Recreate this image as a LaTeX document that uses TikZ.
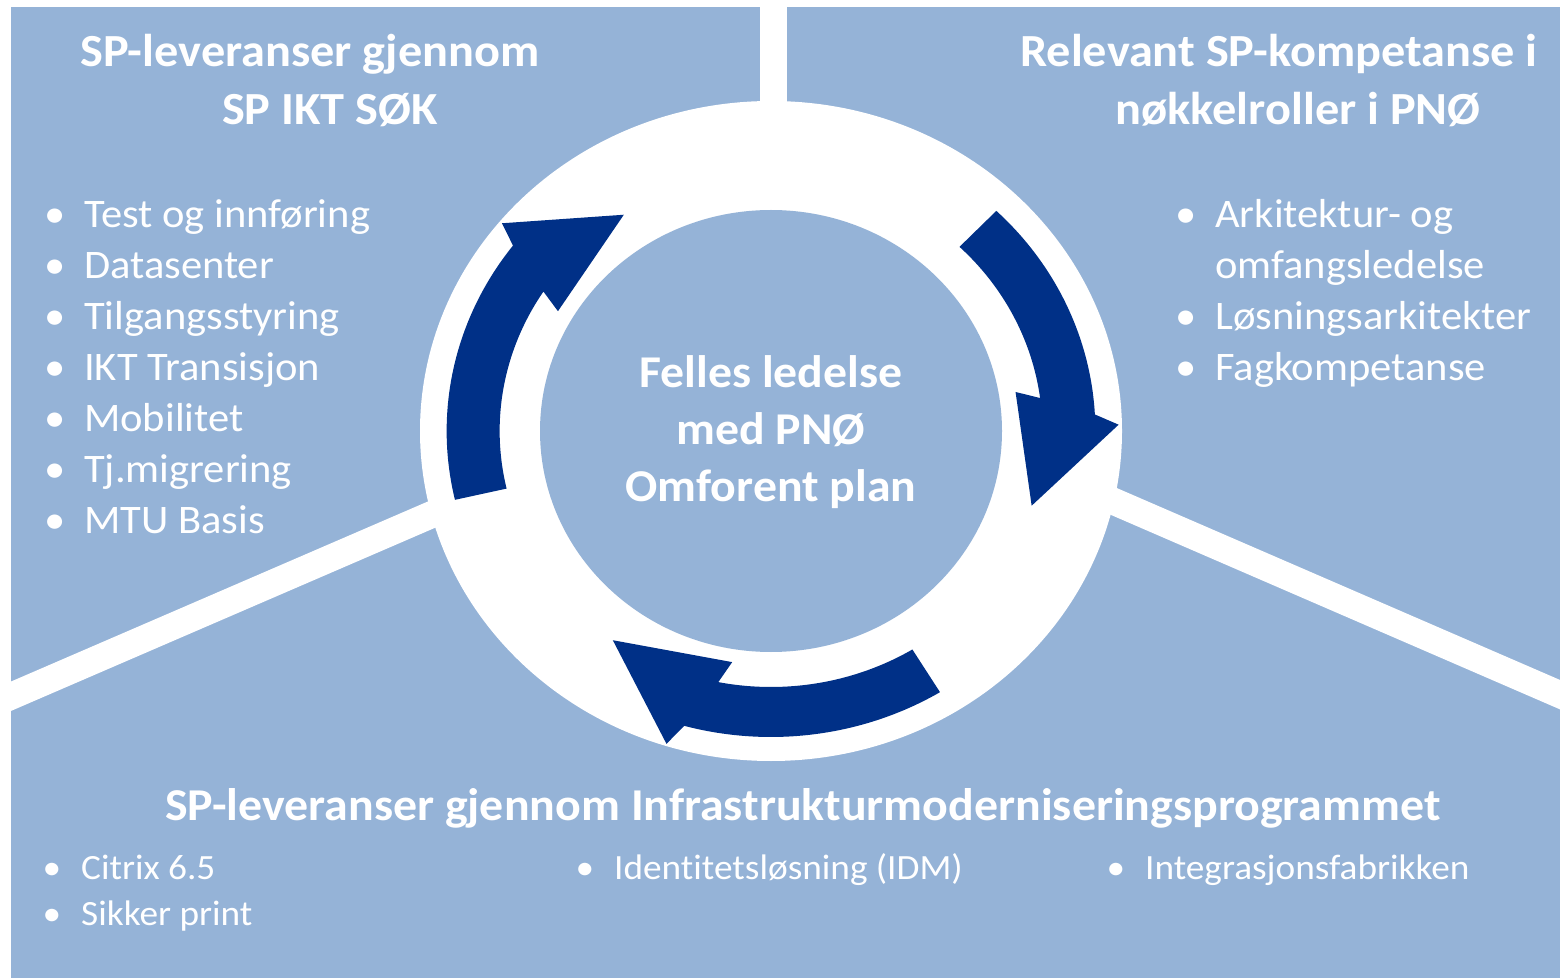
\documentclass[tikz,border=0pt]{standalone}
\usepackage{fontspec}
\setmainfont{Carlito}[Ligatures=NoCommon,FakeStretch=1.05]
\usepackage{tikz}
\usetikzlibrary{positioning,calc}
\definecolor{panelblue}{HTML}{95B3D7}
\definecolor{arrowblue}{HTML}{003087}
\newcommand{\cyclearrow}[2]{% tail angle, tip angle
  \fill[arrowblue] (#1:306) arc[start angle=#1, end angle={#2+20}, radius=306]
    -- ({#2+18}:328) -- (#2:257) -- ({#2+26.5}:234) -- ({#2+24.3}:256)
    arc[start angle={#2+24.3}, end angle=#1, radius=256] -- cycle;}

\begin{document}
\begin{tikzpicture}[x=1pt,y=1pt,
    gap/.style={white,line width=27pt},
    title/.style={text=white,inner sep=0pt,anchor=base,align=center,
      font=\fontsize{46}{58}\selectfont\bfseries},
    bulitem/.style={text=white,inner sep=0pt,anchor=base west,
      font=\fontsize{40.5}{51}\selectfont,
      execute at begin node={\llap{\textbullet\hspace{19pt}}}},
    contitem/.style={text=white,inner sep=0pt,anchor=base west,
      font=\fontsize{40.5}{51}\selectfont},
    smallitem/.style={text=white,inner sep=0pt,anchor=base west,
      font=\fontsize{35.5}{46}\selectfont,
      execute at begin node={\llap{\textbullet\hspace{20pt}}}}]
    \useasboundingbox (0,0) rectangle (1560,978);
    \fill[panelblue] (11,0) rectangle (1560,971);
    \coordinate (c) at (771,547);
    \coordinate (hub) at (773.5,560);
    \coordinate (lhub) at (771,610);
    \coordinate (rhub) at (771,625);
    \draw[gap] (hub) -- (773.5,990);
    \draw[gap] (lhub) -- (0,277);
    \draw[gap] (rhub) -- (1570,279);
    \fill[white] (c) ellipse [x radius=351, y radius=330];
    \fill[panelblue] (c) ellipse [x radius=231, y radius=221];
    \begin{scope}[shift={(c)},xscale=1.06]
      \cyclearrow{193}{122.7}
      \cyclearrow{46}{-16.9}
      \cyclearrow{-58.6}{-125.5}
    \end{scope}

    \node[title] (sok) at (330,853) {SP-leveranser gjennom\hspace*{40pt}\\SP IKT SØK};
    \node[title] (pno) at (1298,853) {Relevant SP-kompetanse i\hspace*{38pt}\\nøkkelroller i PNØ};
    \node[title,font=\fontsize{45.6}{58}\selectfont\bfseries] (imp) at (803,158)
      {SP-leveranser gjennom Infrastrukturmoderniseringsprogrammet};
    \node[title,font=\fontsize{45.5}{57}\selectfont\bfseries] (plan) at (771,476)
      {Felles ledelse\\med PNØ\\Omforent plan};

    \node[bulitem] (l1) at (84,750) {Test og innføring};
    \node[bulitem] (l2) at (84,699) {Datasenter};
    \node[bulitem] (l3) at (84,648) {Tilgangsstyring};
    \node[bulitem] (l4) at (84,597) {IKT Transisjon};
    \node[bulitem] (l5) at (84,546) {Mobilitet};
    \node[bulitem] (l6) at (84,495) {Tj.migrering};
    \node[bulitem] (l7) at (84,444) {MTU Basis};

    \node[bulitem] (r1) at (1215,750) {Arkitektur- og};
    \node[contitem] (r1b) at (1215,699) {omfangsledelse};
    \node[bulitem] (r2) at (1215,648) {Løsningsarkitekter};
    \node[bulitem] (r3) at (1215,597) {Fagkompetanse};

    \node[smallitem] (b1) at (81,99) {Citrix 6.5};
    \node[smallitem] (b2) at (81,53) {Sikker print};
    \node[smallitem] (b3) at (614,99) {Identitetsløsning (IDM)};
    \node[smallitem] (b4) at (1145,99) {Integrasjonsfabrikken};
\end{tikzpicture}
\end{document}
